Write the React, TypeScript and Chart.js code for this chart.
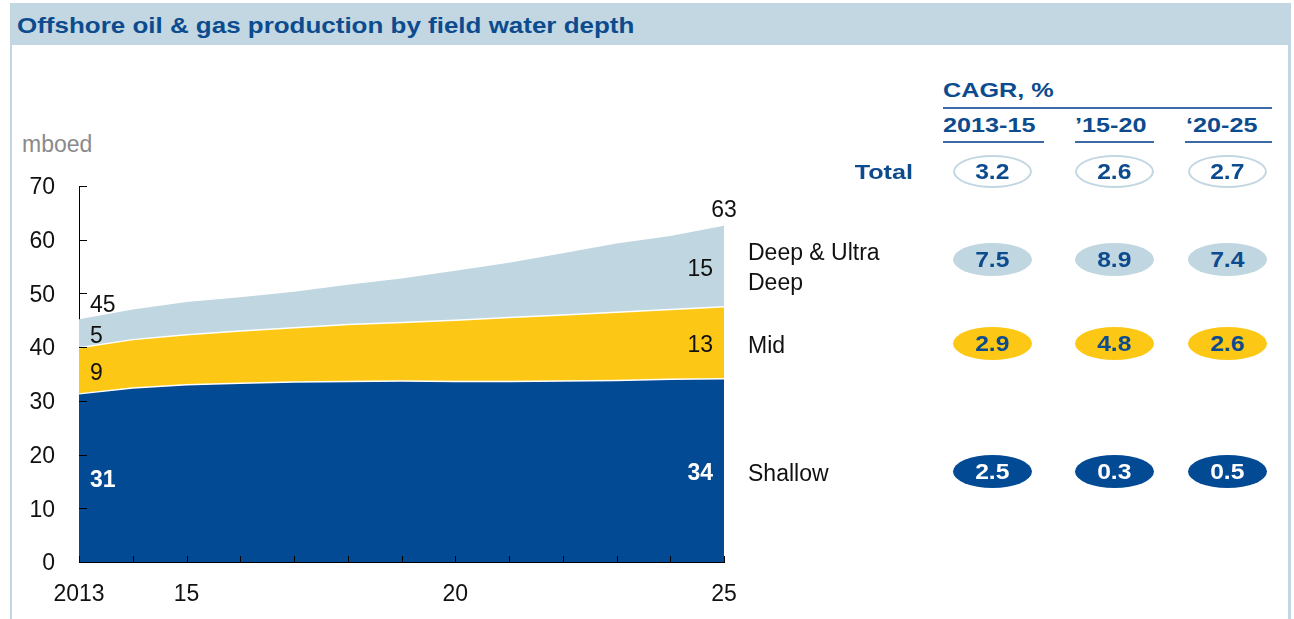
import React, { useEffect, useRef } from "react";
import { Chart, registerables } from "chart.js";

Chart.register(...registerables);

// ---- Data ----
const years = [2013, 2014, 2015, 2016, 2017, 2018, 2019, 2020, 2021, 2022, 2023, 2024, 2025];
const xTickLabels = ["2013", "", "15", "", "", "", "", "20", "", "", "", "", "25"];
const shallow = [31.3, 32.4, 33.0, 33.3, 33.5, 33.6, 33.7, 33.6, 33.6, 33.7, 33.8, 34.0, 34.1];
const mid = [8.6, 9.0, 9.3, 9.7, 10.1, 10.6, 10.9, 11.4, 11.9, 12.3, 12.7, 13.0, 13.4];
const deep = [5.3, 5.6, 6.1, 6.3, 6.7, 7.4, 8.2, 9.2, 10.2, 11.5, 12.8, 13.7, 15.1];
const yMin = 0;
const yMax = 70;
const yStep = 10;

const cagrPeriods = ["2013-15", "\u201915-20", "\u201820-25"];
const cagrTotal = [3.2, 2.6, 2.7];
const cagrDeep = [7.5, 8.9, 7.4];
const cagrMid = [2.9, 4.8, 2.6];
const cagrShallow = [2.5, 0.3, 0.5];

// ---- Styles ----
const FONT = '"Liberation Sans", Arial, sans-serif';
const C_DARK = "#034a94";
const C_YELLOW = "#fcc815";
const C_LIGHT = "#c0d6e0";
const C_TEXTBLUE = "#0c4b8e";
const C_BAR = "#c2d7e2";
const TEXT_DY = 3;

const labelPlugin = {
  id: "customLabels",
  afterDraw(chart: any) {
    const ctx = chart.ctx;
    const xs = chart.scales.x;
    const ys = chart.scales.y;
    const area = chart.chartArea;
    ctx.save();
    // inward tick marks
    ctx.strokeStyle = "#000";
    ctx.lineWidth = 1;
    ctx.beginPath();
    for (let v = yMin; v <= yMax; v += yStep) {
      const y = Math.round(ys.getPixelForValue(v)) + 0.5;
      ctx.moveTo(area.left, y);
      ctx.lineTo(area.left + 8, y);
    }
    for (let i = 0; i < years.length; i++) {
      const x = Math.round(xs.getPixelForValue(i)) + 0.5;
      ctx.moveTo(x, area.bottom);
      ctx.lineTo(x, area.bottom - 6);
    }
    ctx.stroke();

    const n = years.length - 1;
    const stackAt = (i: number) => {
      const b0 = shallow[i];
      const b1 = b0 + mid[i];
      const b2 = b1 + deep[i];
      return [b0, b1, b2];
    };
    ctx.textBaseline = "middle";
    // left labels
    {
      const i = 0;
      const [b0, b1, b2] = stackAt(i);
      const x = xs.getPixelForValue(i) + 11;
      ctx.textAlign = "left";
      ctx.font = `23px ${FONT}`;
      ctx.fillStyle = "#111";
      ctx.fillText(String(Math.round(b2)), x, ys.getPixelForValue(b2) - 17 + TEXT_DY);
      ctx.fillText(String(Math.round(deep[i])), x, (ys.getPixelForValue(b1) + ys.getPixelForValue(b2)) / 2 + TEXT_DY);
      ctx.fillText(String(Math.round(mid[i])), x, (ys.getPixelForValue(b0) + ys.getPixelForValue(b1)) / 2 + TEXT_DY);
      ctx.font = `bold 23px ${FONT}`;
      ctx.fillStyle = "#fff";
      ctx.fillText(String(Math.round(shallow[i])), x, (ys.getPixelForValue(0) + ys.getPixelForValue(b0)) / 2 + TEXT_DY);
    }
    // right labels
    {
      const i = n;
      const [b0, b1, b2] = stackAt(i);
      const xc = xs.getPixelForValue(i);
      const x = xc - 11;
      ctx.font = `23px ${FONT}`;
      ctx.fillStyle = "#111";
      ctx.textAlign = "center";
      ctx.fillText(String(Math.round(b2)), xc, ys.getPixelForValue(b2) - 18 + TEXT_DY);
      ctx.textAlign = "right";
      ctx.fillText(String(Math.round(deep[i])), x, (ys.getPixelForValue(b1) + ys.getPixelForValue(b2)) / 2 + TEXT_DY);
      ctx.fillText(String(Math.round(mid[i])), x, (ys.getPixelForValue(b0) + ys.getPixelForValue(b1)) / 2 + TEXT_DY);
      ctx.font = `bold 23px ${FONT}`;
      ctx.fillStyle = "#fff";
      ctx.fillText(String(Math.round(shallow[i])), x, (ys.getPixelForValue(0) + ys.getPixelForValue(b0)) / 2 + TEXT_DY);
    }
    ctx.restore();
  },
};

type TProps = {
  x: number;
  y: number;
  text: string;
  size?: number;
  bold?: boolean;
  color?: string;
  align?: "left" | "right" | "center";
  sx?: number;
};

function T({ x, y, text, size = 23, bold = false, color = "#111", align = "left", sx = 1 }: TProps) {
  const W = 400;
  const left = align === "left" ? x : align === "right" ? x - W : x - W / 2;
  return (
    <div
      style={{
        position: "absolute",
        left,
        top: y - 20,
        width: W,
        height: 40,
        lineHeight: "40px",
        fontSize: size,
        fontWeight: bold ? "bold" : "normal",
        color,
        textAlign: align,
        whiteSpace: "nowrap",
        transform: `scaleX(${sx})`,
        transformOrigin: `${align === "left" ? "left" : align === "right" ? "right" : "center"} center`,
      }}
    >
      {text}
    </div>
  );
}

function Pill({ cx, cy, value, kind }: { cx: number; cy: number; value: number; kind: string }) {
  const w = 79;
  const h = 33;
  const bg = kind === "total" ? "#fff" : kind === "deep" ? C_LIGHT : kind === "mid" ? C_YELLOW : C_DARK;
  const color = kind === "shallow" ? "#fff" : C_TEXTBLUE;
  return (
    <div
      style={{
        position: "absolute",
        left: cx - w / 2,
        top: cy - h / 2,
        width: w,
        height: h,
        borderRadius: "50%",
        background: bg,
        border: kind === "total" ? `2px solid ${C_BAR}` : "none",
        boxSizing: "border-box",
        display: "flex",
        alignItems: "center",
        justifyContent: "center",
      }}
    >
      <span
        style={{
          fontSize: 22,
          fontWeight: "bold",
          color,
          display: "inline-block",
          transform: "scaleX(1.12)",
          position: "relative",
          top: 1,
        }}
      >
        {value.toFixed(1)}
      </span>
    </div>
  );
}

export default function App() {
  const canvasRef = useRef<HTMLCanvasElement | null>(null);

  useEffect(() => {
    if (!canvasRef.current) return;
    const chart = new Chart(canvasRef.current, {
      type: "line",
      data: {
        labels: years.map(String),
        datasets: [
          {
            label: "Shallow",
            data: shallow,
            backgroundColor: C_DARK,
            borderColor: "#ffffff",
            borderWidth: 1.5,
            fill: "origin",
            pointRadius: 0,
            tension: 0,
          },
          {
            label: "Mid",
            data: mid,
            backgroundColor: C_YELLOW,
            borderColor: "#ffffff",
            borderWidth: 1.5,
            fill: "-1",
            pointRadius: 0,
            tension: 0,
          },
          {
            label: "Deep & Ultra Deep",
            data: deep,
            backgroundColor: C_LIGHT,
            borderColor: C_LIGHT,
            borderWidth: 0,
            fill: "-1",
            pointRadius: 0,
            tension: 0,
          },
        ],
      },
      options: {
        animation: false,
        responsive: false,
        maintainAspectRatio: false,
        events: [],
        layout: { padding: { left: 0, top: 66, right: 36, bottom: 0 } },
        plugins: {
          legend: { display: false },
          tooltip: { enabled: false },
        },
        scales: {
          x: {
            type: "category",
            offset: false,
            stacked: true,
            z: 1,
            grid: { display: true, drawOnChartArea: false, drawTicks: false },
            border: { display: true, color: "#000", width: 1 },
            ticks: {
              autoSkip: false,
              maxRotation: 0,
              minRotation: 0,
              padding: 19,
              color: "#111",
              font: { family: FONT, size: 23 },
              callback: (_v: any, i: number) => xTickLabels[i],
            },
            afterFit: (s: any) => {
              s.height = 57;
            },
          },
          y: {
            stacked: true,
            min: yMin,
            max: yMax,
            z: 1,
            grid: { display: true, drawOnChartArea: false, drawTicks: false },
            border: { display: true, color: "#000", width: 1 },
            ticks: {
              stepSize: yStep,
              padding: 24,
              labelOffset: 2,
              color: "#111",
              font: { family: FONT, size: 23 },
            },
            afterFit: (s: any) => {
              s.width = 79;
            },
          },
        },
      },
      plugins: [labelPlugin],
    } as any);
    return () => chart.destroy();
  }, []);

  const colX = [992, 1114, 1227];
  const hdrLeft = [943, 1075, 1186];
  const ulines = [
    [943, 1044],
    [1075, 1154],
    [1185, 1272],
  ];
  const rowsY = { total: 171, deep: 259, mid: 343, shallow: 471 };

  return (
    <div style={{ position: "fixed", left: 0, top: 0, width: 1294, height: 619, background: "#fff", fontFamily: FONT, overflow: "hidden" }}>
      {/* frame */}
      <div
        style={{
          position: "absolute",
          left: 10,
          top: 3,
          width: 1281,
          height: 620,
          borderLeft: `2px solid ${C_BAR}`,
          borderRight: `3px solid ${C_BAR}`,
          boxSizing: "border-box",
        }}
      />
      <div style={{ position: "absolute", left: 10, top: 3, width: 1281, height: 42, background: C_BAR }} />
      <T x={17} y={26} text="Offshore oil & gas production by field water depth" size={22} bold color={C_TEXTBLUE} sx={1.18} />

      {/* y unit */}
      <T x={22} y={144} text="mboed" size={23} color="#8a8a8a" />

      {/* chart */}
      <canvas ref={canvasRef} width={760} height={499} style={{ position: "absolute", left: 0, top: 120, width: 760, height: 499 }} />

      {/* CAGR table */}
      <T x={943} y={90} text="CAGR, %" size={21} bold color={C_TEXTBLUE} sx={1.2} />
      <div style={{ position: "absolute", left: 943, top: 107, width: 1272 - 943, height: 2, background: "#3c6aa6" }} />
      {cagrPeriods.map((p, i) => (
        <T key={p} x={hdrLeft[i]} y={125} text={p} size={21} bold color={C_TEXTBLUE} sx={1.2} />
      ))}
      {ulines.map(([a, b], i) => (
        <div key={i} style={{ position: "absolute", left: a, top: 141, width: b - a, height: 2, background: "#3c6aa6" }} />
      ))}

      <T x={913} y={172} text="Total" size={21} bold color={C_TEXTBLUE} align="right" sx={1.2} />
      <T x={748} y={252} text="Deep & Ultra" size={23} />
      <T x={748} y={282} text="Deep" size={23} />
      <T x={748} y={345} text="Mid" size={23} />
      <T x={748} y={473} text="Shallow" size={23} />

      {cagrTotal.map((v, i) => (
        <Pill key={"t" + i} cx={colX[i]} cy={rowsY.total} value={v} kind="total" />
      ))}
      {cagrDeep.map((v, i) => (
        <Pill key={"d" + i} cx={colX[i]} cy={rowsY.deep} value={v} kind="deep" />
      ))}
      {cagrMid.map((v, i) => (
        <Pill key={"m" + i} cx={colX[i]} cy={rowsY.mid} value={v} kind="mid" />
      ))}
      {cagrShallow.map((v, i) => (
        <Pill key={"s" + i} cx={colX[i]} cy={rowsY.shallow} value={v} kind="shallow" />
      ))}
    </div>
  );
}
